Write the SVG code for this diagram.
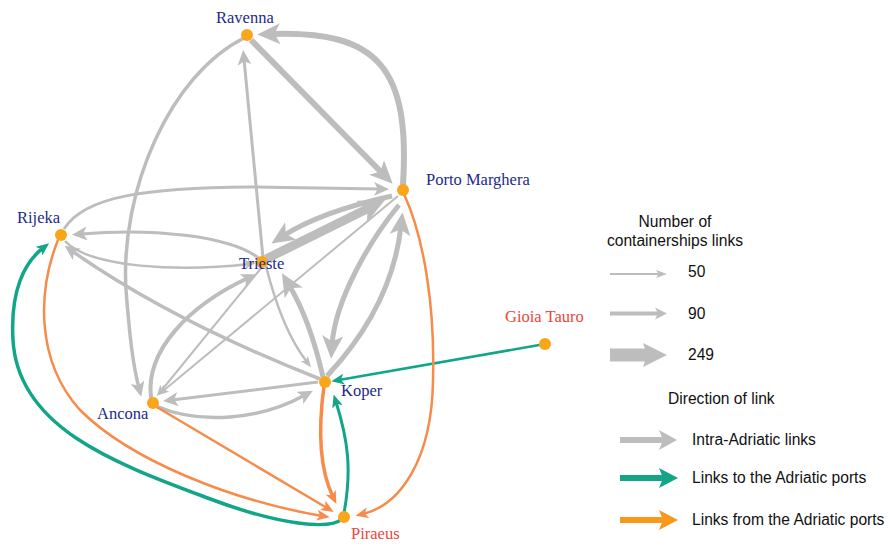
<svg xmlns="http://www.w3.org/2000/svg" width="892" height="544" viewBox="0 0 892 544">
<style>
.g{fill:none;stroke:#bdbdbd;stroke-linecap:butt}
.t{fill:none;stroke:#12a588;stroke-linecap:butt}
.o{fill:none;stroke:#f68b4a;stroke-linecap:butt}
.node{fill:#f9a61a}
.lb{font-family:"Liberation Serif","Times New Roman",serif;font-size:16.5px;fill:#1d2a8a}
.lr{font-family:"Liberation Serif","Times New Roman",serif;font-size:16.5px;fill:#e8473a}
.lg{font-family:"Liberation Sans",Arial,sans-serif;font-size:15.6px;fill:#111}
</style>
<defs>
<marker id="gS" viewBox="0 0 11 9" markerWidth="11" markerHeight="9" refX="4.4" refY="4.5" orient="auto" markerUnits="userSpaceOnUse"><path d="M0,0 L11,4.5 L0,9 L2.75,4.5 Z" fill="#bdbdbd"/></marker>
<marker id="gM" viewBox="0 0 15 14" markerWidth="15" markerHeight="14" refX="6" refY="7" orient="auto" markerUnits="userSpaceOnUse"><path d="M0,0 L15,7 L0,14 L3.75,7 Z" fill="#bdbdbd"/></marker>
<marker id="gL" viewBox="0 0 23 21" markerWidth="23" markerHeight="21" refX="9.2" refY="10.5" orient="auto" markerUnits="userSpaceOnUse"><path d="M0,0 L23,10.5 L0,21 L5.75,10.5 Z" fill="#bdbdbd"/></marker>
<marker id="gXL" viewBox="0 0 26 24" markerWidth="26" markerHeight="24" refX="10.4" refY="12" orient="auto" markerUnits="userSpaceOnUse"><path d="M0,0 L26,12 L0,24 L6.5,12 Z" fill="#bdbdbd"/></marker>
<marker id="tM" viewBox="0 0 13 11" markerWidth="13" markerHeight="11" refX="5.2" refY="5.5" orient="auto" markerUnits="userSpaceOnUse"><path d="M0,0 L13,5.5 L0,11 L3.25,5.5 Z" fill="#12a588"/></marker>
<marker id="oM" viewBox="0 0 13 11" markerWidth="13" markerHeight="11" refX="5.2" refY="5.5" orient="auto" markerUnits="userSpaceOnUse"><path d="M0,0 L13,5.5 L0,11 L3.25,5.5 Z" fill="#f68b4a"/></marker>
</defs>

<g id="connectors">
<!-- intra-Adriatic -->
<path class="g" stroke-width="6" d="M403,185 C410,70 380,30 271,34" marker-end="url(#gL)"/>
<path class="g" stroke-width="6" d="M251,40 L383,174" marker-end="url(#gL)"/>
<path class="g" stroke-width="3" d="M263,258 L244,59" marker-end="url(#gM)"/>
<path class="g" stroke-width="3.5" d="M244,38 C170,75 120,190 126,290 C130,340 133,365 139,388" marker-end="url(#gM)"/>
<path class="g" stroke-width="3" d="M64,229 C85,195 150,188 250,187 L380,189" marker-end="url(#gM)"/>
<path class="g" stroke-width="3" d="M260,259 C230,235 150,228 81,234" marker-end="url(#gM)"/>
<path class="g" stroke-width="2.5" d="M65,241 C90,268 180,272 249,264" marker-end="url(#gS)"/>
<path class="g" stroke-width="3.5" d="M320,379 Q170,320 72,251" marker-end="url(#gM)"/>
<path class="g" stroke-width="5" d="M392,196 Q320,212 283,236" marker-end="url(#gL)"/>
<path class="g" stroke-width="9" d="M266,259 L371,207" marker-end="url(#gXL)"/>
<path class="g" stroke-width="5" d="M323,377 Q310,320 289,285" marker-end="url(#gL)"/>
<path class="g" stroke-width="2.5" d="M266,266 Q282,330 307,362" marker-end="url(#gS)"/>
<path class="g" stroke-width="5" d="M399,205 C370,240 335,300 332,345" marker-end="url(#gL)"/>
<path class="g" stroke-width="5" d="M327,376 C370,330 395,280 401,226" marker-end="url(#gL)"/>
<path class="g" stroke-width="2" d="M398,196 L163,391" marker-end="url(#gS)"/>
<path class="g" stroke-width="4" d="M151,398 C145,350 190,305 248,278" marker-end="url(#gM)"/>
<path class="g" stroke-width="2" d="M262,267 L161,391" marker-end="url(#gS)"/>
<path class="g" stroke-width="3" d="M318,382 L172,400" marker-end="url(#gM)"/>
<path class="g" stroke-width="3.5" d="M156,406 C200,425 260,420 305,395" marker-end="url(#gM)"/>
<!-- to the Adriatic ports -->
<path class="t" stroke-width="2.5" d="M545,344 L339,380" marker-end="url(#tM)"/>
<path class="t" stroke-width="3" d="M344,513 C352,470 348,440 336,402" marker-end="url(#tM)"/>
<path class="t" stroke-width="3.5" d="M342,519 C330,530 280,525 213,500 C120,465 18,430 13,340 C10,290 25,262 43,248" marker-end="url(#tM)"/>
<!-- from the Adriatic ports -->
<path class="o" stroke-width="2.5" d="M58,240 C38,290 35,360 80,410 C130,460 230,500 322,516" marker-end="url(#oM)"/>
<path class="o" stroke-width="2.5" d="M155,406 L327,508" marker-end="url(#oM)"/>
<path class="o" stroke-width="3.5" d="M324,386 C318,430 320,470 333,497" marker-end="url(#oM)"/>
<path class="o" stroke-width="2.5" d="M404,194 C425,240 435,310 433,380 C432,460 400,505 363,514" marker-end="url(#oM)"/>
</g>

<g id="node-ravenna"><circle class="node" cx="247" cy="35" r="6"/><text class="lb" x="216" y="23">Ravenna</text></g>
<g id="node-porto-marghera"><circle class="node" cx="403" cy="190" r="6"/><text class="lb" x="426" y="185">Porto Marghera</text></g>
<g id="node-rijeka"><circle class="node" cx="61" cy="235" r="6"/><text class="lb" x="17" y="223">Rijeka</text></g>
<g id="node-trieste"><circle class="node" cx="262" cy="262" r="6"/><text class="lb" x="239" y="269">Trieste</text></g>
<g id="node-gioia-tauro"><circle class="node" cx="545" cy="344" r="6"/><text class="lr" x="505" y="322">Gioia Tauro</text></g>
<g id="node-koper"><circle class="node" cx="325" cy="382" r="6"/><text class="lb" x="341" y="396">Koper</text></g>
<g id="node-ancona"><circle class="node" cx="153" cy="403" r="6"/><text class="lb" x="97" y="419">Ancona</text></g>
<g id="node-piraeus"><circle class="node" cx="344" cy="517" r="6"/><text class="lr" x="351" y="539">Piraeus</text></g>

<g id="legend">
<text class="lg" x="675" y="227" text-anchor="middle">Number of</text>
<text class="lg" x="675" y="246" text-anchor="middle">containerships links</text>
<line x1="610" y1="274" x2="660" y2="274" stroke="#bdbdbd" stroke-width="2"/>
<path d="M656,270 L667,274 L656,278 L658.5,274 Z" fill="#bdbdbd"/>
<text class="lg" x="688" y="277">50</text>
<line x1="610" y1="313.5" x2="659" y2="313.5" stroke="#bdbdbd" stroke-width="4"/>
<path d="M655,307.5 L667,313.5 L655,319.5 L658,313.5 Z" fill="#bdbdbd"/>
<text class="lg" x="688" y="319">90</text>
<rect x="610" y="348.5" width="40" height="13" fill="#bdbdbd"/>
<path d="M643,343 L667,355 L643,367 L647,355 Z" fill="#bdbdbd"/>
<text class="lg" x="688" y="360">249</text>
<text class="lg" x="668" y="404">Direction of link</text>
<line x1="620" y1="440" x2="668" y2="440" stroke="#bdbdbd" stroke-width="6"/>
<path d="M659,430 L677,440 L659,450 L663,440 Z" fill="#bdbdbd"/>
<text class="lg" x="692" y="445">Intra-Adriatic links</text>
<line x1="620" y1="478" x2="668" y2="478" stroke="#12a588" stroke-width="6"/>
<path d="M659,468 L678,478 L659,488 L663,478 Z" fill="#12a588"/>
<text class="lg" x="692" y="483">Links to the Adriatic ports</text>
<line x1="620" y1="520" x2="668" y2="520" stroke="#f9991c" stroke-width="6"/>
<path d="M659,510 L678,520 L659,530 L663,520 Z" fill="#f9991c"/>
<text class="lg" x="692" y="525">Links from the Adriatic ports</text>
</g>
</svg>
